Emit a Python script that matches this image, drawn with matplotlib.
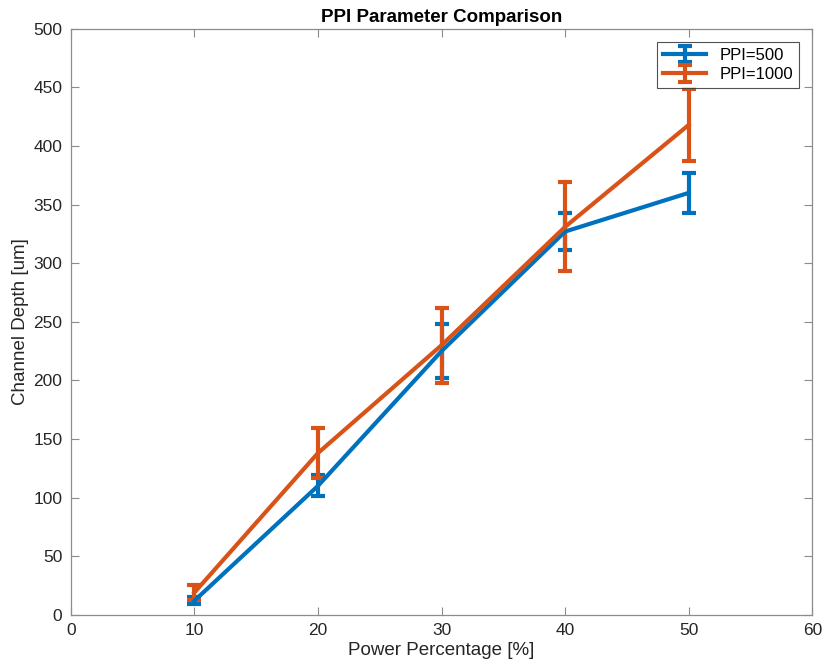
import matplotlib.pyplot as plt
import numpy as np

plt.rcParams['font.family'] = ['Liberation Sans', 'DejaVu Sans']

power = [10, 20, 30, 40, 50]
depth_500 = [12, 110, 225, 327, 360]
err_500 = [3, 9, 23, 16, 17]
depth_1000 = [19, 138, 230, 331, 418]
err_1000 = [6.5, 21, 32, 38, 31]

fig = plt.figure(figsize=(8.23, 6.69), dpi=100)
ax = fig.add_axes([0.086, 0.081, 0.901, 0.876])

ax.errorbar(power, depth_500, yerr=err_500, color='#0072BD', linewidth=3,
            elinewidth=3, capsize=5, capthick=3, label='PPI=500')
ax.errorbar(power, depth_1000, yerr=err_1000, color='#D95319', linewidth=3,
            elinewidth=3, capsize=5, capthick=3, label='PPI=1000')

ax.set_xlim(0, 60)
ax.set_ylim(0, 500)
ax.set_xticks(np.arange(0, 61, 10))
ax.set_yticks(np.arange(0, 501, 50))
ax.tick_params(direction='in', top=True, right=True, labelsize=12.5,
               labelcolor='#262626', color='#8c8c8c', length=6, pad=6)
for s in ax.spines.values():
    s.set_color('#8c8c8c')
    s.set_linewidth(0.9)

ax.set_xlabel('Power Percentage [%]', fontsize=13.5, color='#262626', labelpad=3)
ax.set_ylabel('Channel Depth [um]', fontsize=13.5, color='#262626', labelpad=3)
ax.set_title('PPI Parameter Comparison', fontsize=13.5, fontweight='bold', pad=5)

leg = ax.legend(loc='upper right', fontsize=12, fancybox=False,
                edgecolor='#262626', borderaxespad=0.8, handlelength=2.6,
                labelspacing=0.25, borderpad=0.35)
leg.get_frame().set_linewidth(0.8)

fig.savefig('out.png')
